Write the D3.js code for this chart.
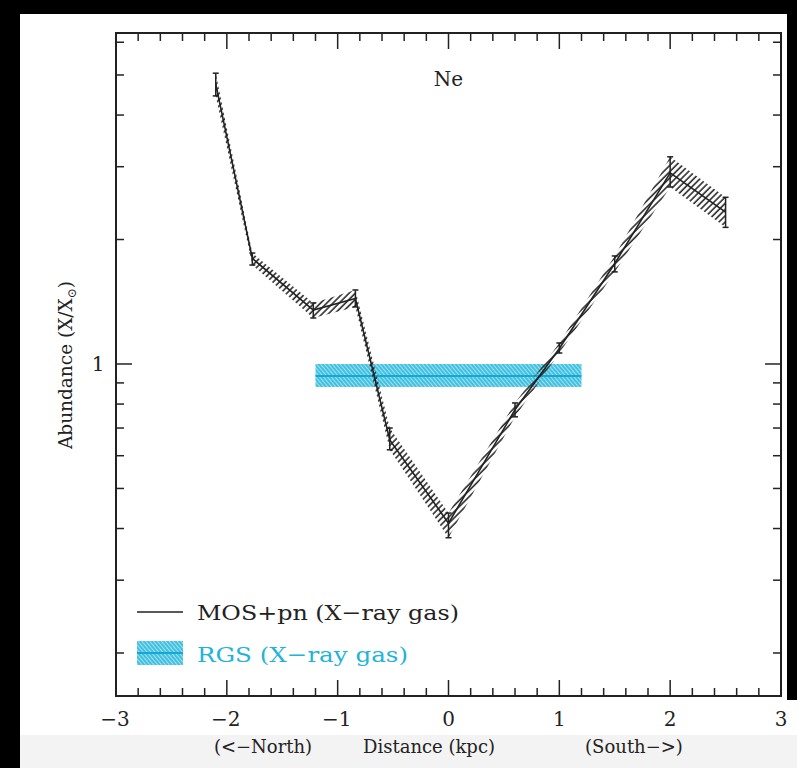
<!DOCTYPE html>
<html>
<head>
<meta charset="utf-8">
<script src="https://cdn.jsdelivr.net/npm/d3@7"></script>
<style>
  html, body { margin: 0; padding: 0; background: #000; }
  svg { display: block; }
</style>
</head>
<body>
<svg id="chart" width="797" height="768"></svg>
<script>
// ---- data ----
const distance = [-2.1, -1.77, -1.22, -0.84, -0.53, 0, 0.6, 1.0, 1.5, 2.0, 2.5];
const abundance = [4.75, 1.80, 1.35, 1.44, 0.655, 0.412, 0.775, 1.09, 1.75, 2.90, 2.33];
const errLow  = [4.45, 1.735, 1.292, 1.374, 0.62, 0.38, 0.745, 1.063, 1.67, 2.68, 2.14];
const errHigh = [5.05, 1.855, 1.405, 1.51, 0.70, 0.436, 0.805, 1.124, 1.825, 3.17, 2.53];
const rgsRange = [-1.2, 1.2];
const rgsValue = 0.935;
const rgsLow = 0.88;
const rgsHigh = 1.0;
const xTicks = [-3, -2, -1, 0, 1, 2, 3];
const yMajorTicks = [1];
const yMinorTicks = [0.2, 0.3, 0.4, 0.5, 0.6, 0.7, 0.8, 0.9, 2, 3, 4, 5, 6];
const legendLabels = ["MOS+pn (X\u2212ray gas)", "RGS (X\u2212ray gas)"];
const title = "Ne";

// ---- layout ----
const svg = d3.select("#chart");
const L = 116, R = 781, T = 33, B = 696;
const FONT = "'DejaVu Serif', serif";
const INK = "#222";
const CYAN = "#2bb8dc";

svg.append("rect").attr("x", 20).attr("y", 14).attr("width", 767).attr("height", 721).attr("fill", "#fff");
svg.append("rect").attr("x", 787).attr("y", 700).attr("width", 10).attr("height", 35).attr("fill", "#fff");
svg.append("rect").attr("x", 20).attr("y", 735).attr("width", 777).attr("height", 33).attr("fill", "#f3f3f3");

const x = d3.scaleLinear().domain([-3, 3]).range([L, R]);
const y = d3.scaleLog().domain([Math.pow(10, -0.803), Math.pow(10, 0.8005)]).range([B, T]);

// patterns
const defs = svg.append("defs");
const hatch = defs.append("pattern").attr("id", "hatchBlack")
  .attr("patternUnits", "userSpaceOnUse").attr("width", 4.4).attr("height", 10)
  .attr("patternTransform", "rotate(45)");
hatch.append("line").attr("x1", 1).attr("y1", 0).attr("x2", 1).attr("y2", 10)
  .attr("stroke", "#2a2a2a").attr("stroke-width", 1.6);

const hatchC = defs.append("pattern").attr("id", "hatchCyan")
  .attr("patternUnits", "userSpaceOnUse").attr("width", 3).attr("height", 10)
  .attr("patternTransform", "rotate(-40)");
hatchC.append("rect").attr("width", 3).attr("height", 10).attr("fill", "#9fe1f1");
hatchC.append("line").attr("x1", 1).attr("y1", 0).attr("x2", 1).attr("y2", 10)
  .attr("stroke", CYAN).attr("stroke-width", 1.6);

const plot = svg.append("g");
const clip = defs.append("clipPath").attr("id", "plotClip");
clip.append("rect").attr("x", L).attr("y", T).attr("width", R - L).attr("height", B - T);

// RGS band
const rgsG = plot.append("g").attr("clip-path", "url(#plotClip)");
rgsG.append("rect")
  .attr("x", x(rgsRange[0])).attr("width", x(rgsRange[1]) - x(rgsRange[0]))
  .attr("y", y(rgsHigh)).attr("height", y(rgsLow) - y(rgsHigh))
  .attr("fill", "url(#hatchCyan)");
rgsG.append("line")
  .attr("x1", x(rgsRange[0])).attr("x2", x(rgsRange[1]))
  .attr("y1", y(rgsValue)).attr("y2", y(rgsValue))
  .attr("stroke", "#14a8d2").attr("stroke-width", 2);

// MOS+pn band (hatched polygon between lower and upper bounds)
const idx = d3.range(distance.length);
const area = d3.area()
  .x(i => x(distance[i]))
  .y0(i => y(errLow[i]))
  .y1(i => y(errHigh[i]));
plot.append("path").datum(idx).attr("d", area).attr("fill", "url(#hatchBlack)").attr("stroke", "none");

const line = d3.line().x(i => x(distance[i])).y(i => y(abundance[i]));
plot.append("path").datum(idx).attr("d", line).attr("fill", "none")
  .attr("stroke", INK).attr("stroke-width", 1.6);

// error bars
const eb = plot.append("g").attr("stroke", INK).attr("stroke-width", 1.5);
idx.forEach(i => {
  const cx = x(distance[i]);
  eb.append("line").attr("x1", cx).attr("x2", cx).attr("y1", y(errLow[i])).attr("y2", y(errHigh[i]));
  eb.append("line").attr("x1", cx - 3).attr("x2", cx + 3).attr("y1", y(errLow[i])).attr("y2", y(errLow[i]));
  eb.append("line").attr("x1", cx - 3).attr("x2", cx + 3).attr("y1", y(errHigh[i])).attr("y2", y(errHigh[i]));
});

// frame
svg.append("rect").attr("x", L).attr("y", T).attr("width", R - L).attr("height", B - T)
  .attr("fill", "none").attr("stroke", INK).attr("stroke-width", 2);

// ticks
const tk = svg.append("g").attr("stroke", INK).attr("stroke-width", 1.5);
const xMinor = d3.range(-3, 3.0001, 0.2).map(v => Math.round(v * 10) / 10).filter(v => !xTicks.includes(v));
xMinor.forEach(v => {
  tk.append("line").attr("x1", x(v)).attr("x2", x(v)).attr("y1", B).attr("y2", B - 8);
  tk.append("line").attr("x1", x(v)).attr("x2", x(v)).attr("y1", T).attr("y2", T + 8);
});
xTicks.forEach(v => {
  tk.append("line").attr("x1", x(v)).attr("x2", x(v)).attr("y1", B).attr("y2", B - 16);
  tk.append("line").attr("x1", x(v)).attr("x2", x(v)).attr("y1", T).attr("y2", T + 16);
});
yMinorTicks.forEach(v => {
  tk.append("line").attr("y1", y(v)).attr("y2", y(v)).attr("x1", L).attr("x2", L + 8);
  tk.append("line").attr("y1", y(v)).attr("y2", y(v)).attr("x1", R).attr("x2", R - 8);
});
yMajorTicks.forEach(v => {
  tk.append("line").attr("y1", y(v)).attr("y2", y(v)).attr("x1", L).attr("x2", L + 16);
  tk.append("line").attr("y1", y(v)).attr("y2", y(v)).attr("x1", R).attr("x2", R - 16);
});

// tick labels
const txt = svg.append("g").attr("font-family", FONT).attr("fill", INK);
xTicks.forEach(v => {
  txt.append("text").attr("x", x(v) + (v < 0 ? -1 : 0)).attr("y", 726).attr("text-anchor", "middle")
    .attr("font-size", 20).text(v < 0 ? "\u2212" + Math.abs(v) : String(v));
});
yMajorTicks.forEach(v => {
  txt.append("text").attr("x", 98).attr("y", y(v) + 7).attr("text-anchor", "middle")
    .attr("font-size", 20).text(String(v));
});

// axis titles
txt.append("text").attr("x", 263).attr("y", 753).attr("text-anchor", "middle").attr("font-size", 18)
  .text("(<\u2212North)");
txt.append("text").attr("x", 429).attr("y", 753).attr("text-anchor", "middle").attr("font-size", 18)
  .text("Distance (kpc)");
txt.append("text").attr("x", 634).attr("y", 753).attr("text-anchor", "middle").attr("font-size", 18)
  .text("(South\u2212>)");

const yl = txt.append("text").attr("transform", "translate(72,365) rotate(-90)")
  .attr("text-anchor", "middle").attr("font-size", 18.5);
yl.append("tspan").text("Abundance (X/X");
yl.append("tspan").attr("font-size", 12).attr("dy", 4).text("\u2299");
yl.append("tspan").attr("dy", -4).text(")");

txt.append("text").attr("x", x(0)).attr("y", 86).attr("text-anchor", "middle").attr("font-size", 20).text(title);

// legend
const lg = svg.append("g").attr("font-family", FONT);
lg.append("line").attr("x1", 137).attr("x2", 183).attr("y1", 612).attr("y2", 612)
  .attr("stroke", INK).attr("stroke-width", 1.5);
lg.append("text").attr("x", 197).attr("y", 620).attr("font-size", 21).attr("fill", INK)
  .attr("textLength", 262).attr("lengthAdjust", "spacingAndGlyphs").text(legendLabels[0]);
lg.append("rect").attr("x", 137).attr("y", 641).attr("width", 46).attr("height", 24).attr("fill", "url(#hatchCyan)");
lg.append("line").attr("x1", 137).attr("x2", 183).attr("y1", 653).attr("y2", 653)
  .attr("stroke", "#14a8d2").attr("stroke-width", 2);
lg.append("text").attr("x", 197).attr("y", 662).attr("font-size", 21).attr("fill", "#22b3da")
  .attr("textLength", 211).attr("lengthAdjust", "spacingAndGlyphs").text(legendLabels[1]);
</script>
</body>
</html>
